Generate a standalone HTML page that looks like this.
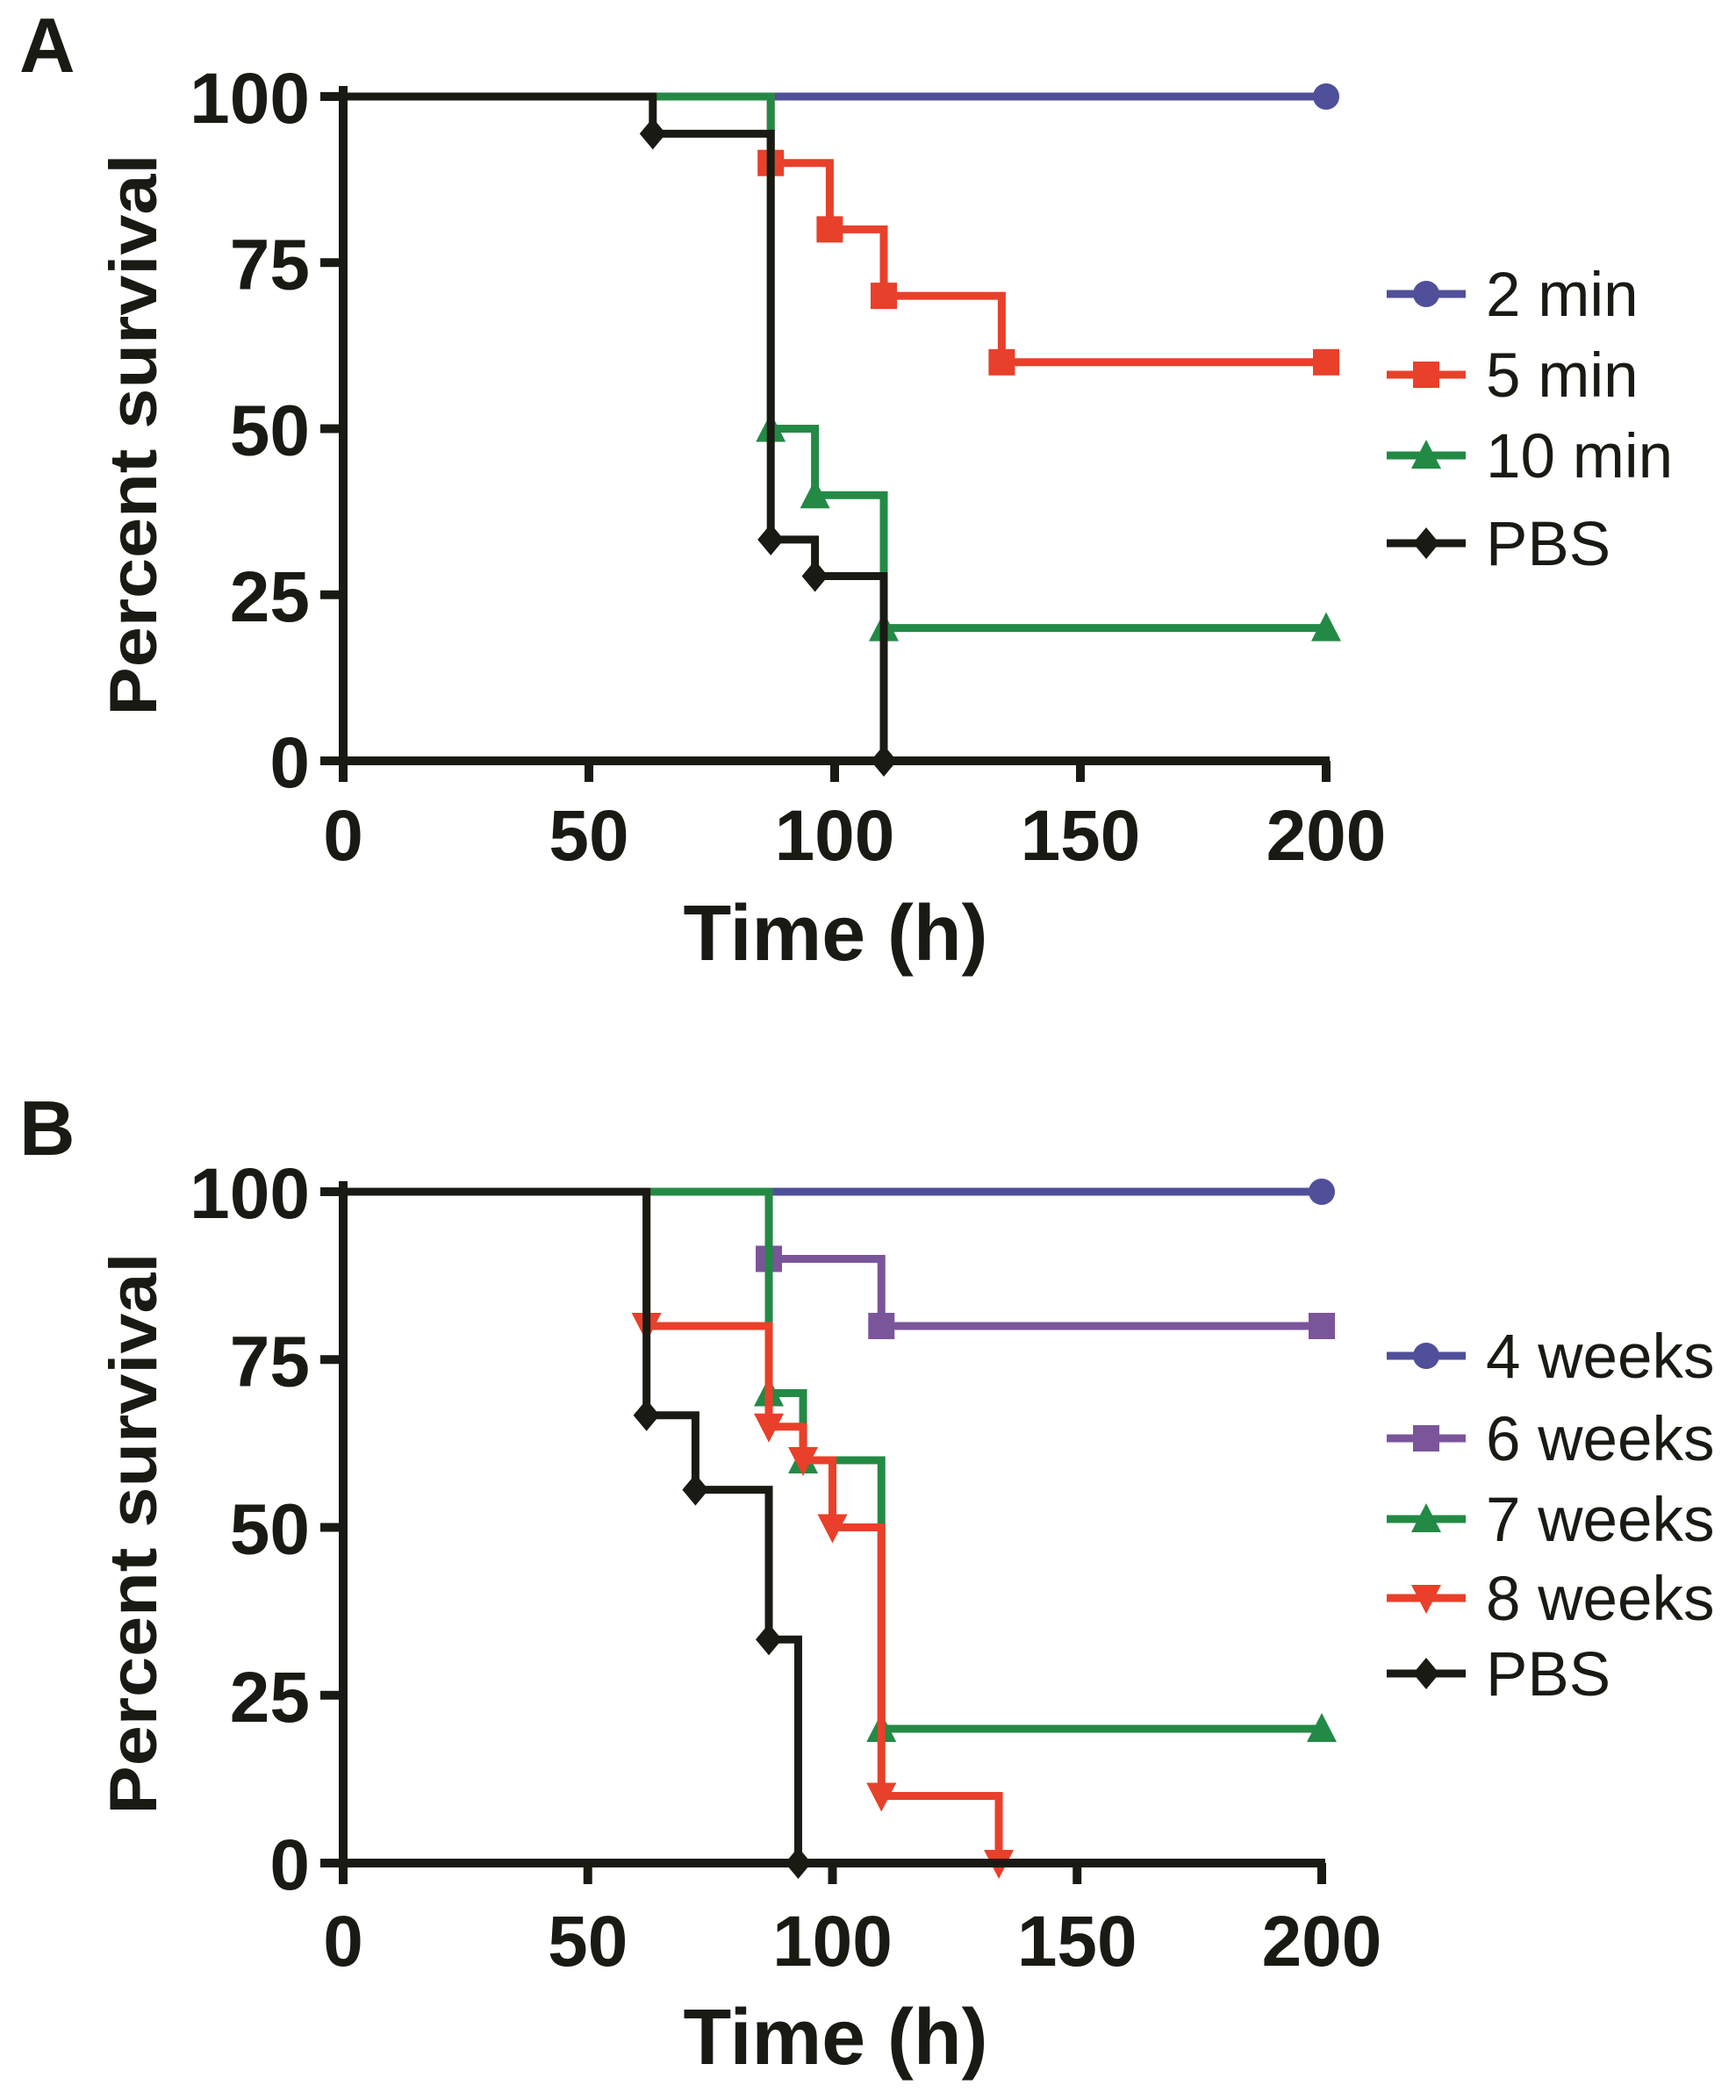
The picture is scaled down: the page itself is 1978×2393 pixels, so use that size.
<!DOCTYPE html>
<html><head><meta charset="utf-8"><style>
html,body{margin:0;padding:0;background:#fff}
svg{display:block}
text{font-family:"Liberation Sans",sans-serif;font-weight:bold;fill:#1a1a14}
</style></head><body>
<svg id="chart" width="1978" height="2393" viewBox="0 0 1978 2393" xmlns="http://www.w3.org/2000/svg"></svg>
<script>
// Panel A data
const aSeriesNames = ["2 min","5 min","10 min","PBS"];
const aColors = ["#4f4f9a","#e8402a","#238a45","#1a1a14"];
const aMarkers = ["circle","square","triangle","diamond"];
const aTimes = [[],[87,99,110,134],[87,96,110],[63,87,96,110]];
const aValues = [[],[90,80,70,60],[50,40,20],[94.4,33.3,27.8,0]];
const aEnds = [200,200,200,110];
// Panel B data
const bSeriesNames = ["4 weeks","6 weeks","7 weeks","8 weeks","PBS"];
const bColors = ["#4f4f9a","#7b559a","#238a45","#e8402a","#1a1a14"];
const bMarkers = ["circle","square","triangle","down","diamond"];
const bTimes = [[],[87,110],[87,94,110],[62,87,94,100,110,134],[62,72,87,93]];
const bValues = [[],[90,80],[70,60,20],[80,65,60,50,10,0],[66.7,55.6,33.3,0]];
const bEnds = [200,200,200,134,93];
const xTicks = [0,50,100,150,200];
const yTicks = [0,25,50,75,100];

const NS="http://www.w3.org/2000/svg";
const svg=document.getElementById('chart');
function mk(tag,attrs,parent){const e=document.createElementNS(NS,tag);for(const k in attrs)e.setAttribute(k,attrs[k]);(parent||svg).appendChild(e);return e;}

function marker(g,type,cx,cy,color){
  const s=15;let e;
  if(type==="circle") e=mk('circle',{cx:cx,cy:cy,r:s},g);
  else if(type==="square") e=mk('rect',{x:cx-s,y:cy-s,width:2*s,height:2*s},g);
  else if(type==="triangle") e=mk('polygon',{points:`${cx},${cy-s-3} ${cx-s-2},${cy+s} ${cx+s+2},${cy+s}`},g);
  else if(type==="down") e=mk('polygon',{points:`${cx},${cy+s+3} ${cx-s-2},${cy-s} ${cx+s+2},${cy-s}`},g);
  else e=mk('polygon',{points:`${cx},${cy-s-3} ${cx+s},${cy} ${cx},${cy+s+3} ${cx-s},${cy}`},g);
  e.setAttribute('fill',color);
  
  
}

function panel(p){
  const g=mk('g',{});
  
  
  const X=v=>p.x0+(p.x1-p.x0)*v/200;
  const Y=v=>p.y0+(p.y100-p.y0)*v/100;
  const lab=mk('text',{x:22,y:p.labelY,'font-size':88},g);lab.textContent=p.id;
  
  
  for(let i=0;i<p.names.length;i++){
    const sg=mk('g',{},g);
    
    
    let d=`M${X(0)},${Y(100)}`;
    const ts=p.times[i],vs=p.values[i];
    for(let j=0;j<ts.length;j++){d+=` H${X(ts[j])} V${Y(vs[j])}`;}
    d+=` H${X(p.ends[i])}`;
    mk('path',{d:d,fill:'none',stroke:p.colors[i],'stroke-width':9,'stroke-linejoin':'miter'},sg);
    for(let j=0;j<ts.length;j++) marker(sg,p.markers[i],X(ts[j]),Y(vs[j]),p.colors[i]);
    const lastV=vs.length?vs[vs.length-1]:100;
    if(p.ends[i]===200) marker(sg,p.markers[i],X(200),Y(lastV),p.colors[i]);
  }
  const ax=mk('g',{},g);
  
  
  mk('line',{x1:X(0),y1:Y(100)-12,x2:X(0),y2:Y(0)+4,stroke:'#1a1a14','stroke-width':10},ax);
  mk('line',{x1:X(0)-4,y1:Y(0),x2:X(200)+4,y2:Y(0),stroke:'#1a1a14','stroke-width':10},ax);
  xTicks.forEach(t=>{
    mk('line',{x1:X(t),y1:Y(0),x2:X(t),y2:Y(0)+24,stroke:'#1a1a14','stroke-width':10},ax);
    const tx=mk('text',{x:X(t),y:p.xLabY,'font-size':82,'text-anchor':'middle'},ax);tx.textContent=t;
    
    
  });
  yTicks.forEach(t=>{
    mk('line',{x1:X(0)-26,y1:Y(t),x2:X(0),y2:Y(t),stroke:'#1a1a14','stroke-width':10},ax);
    const tx=mk('text',{x:X(0)-38,y:Y(t)+30,'font-size':82,'text-anchor':'end'},ax);tx.textContent=t;
    
    
  });
  const yt=mk('text',{x:0,y:0,'font-size':76,'text-anchor':'middle',transform:`translate(178,${(Y(0)+Y(100))/2+7}) rotate(-90)`,textLength:640,lengthAdjust:'spacingAndGlyphs'},g);
  yt.textContent='Percent survival';
  
  
  const xt=mk('text',{x:952,y:p.xTitleY,'font-size':90,'text-anchor':'middle',textLength:347,lengthAdjust:'spacingAndGlyphs'},g);
  xt.textContent='Time (h)';
  
  
  const lg=mk('g',{},g);
  
  
  p.names.forEach((n,i)=>{
    const ly=p.legY[i];
    const eg=mk('g',{},lg);
    
    
    mk('line',{x1:1580,y1:ly,x2:1670,y2:ly,stroke:p.colors[i],'stroke-width':9},eg);
    marker(eg,p.markers[i],1625,ly,p.colors[i]);
    const t=mk('text',{x:1693,y:ly+25,'font-size':71,style:'font-weight:normal'},eg);
    t.textContent=n;
  });
}

panel({id:'A',x0:391,x1:1511,y0:867,y100:110,labelY:82,xLabY:980,xTitleY:1094,
  names:aSeriesNames,colors:aColors,markers:aMarkers,times:aTimes,values:aValues,ends:aEnds,
  legY:[335,427,519,619]});
panel({id:'B',x0:391,x1:1506,y0:2123,y100:1358,labelY:1316,xLabY:2240,xTitleY:2352,
  names:bSeriesNames,colors:bColors,markers:bMarkers,times:bTimes,values:bValues,ends:bEnds,
  legY:[1545,1639,1731,1821,1907]});
</script>
</body></html>
